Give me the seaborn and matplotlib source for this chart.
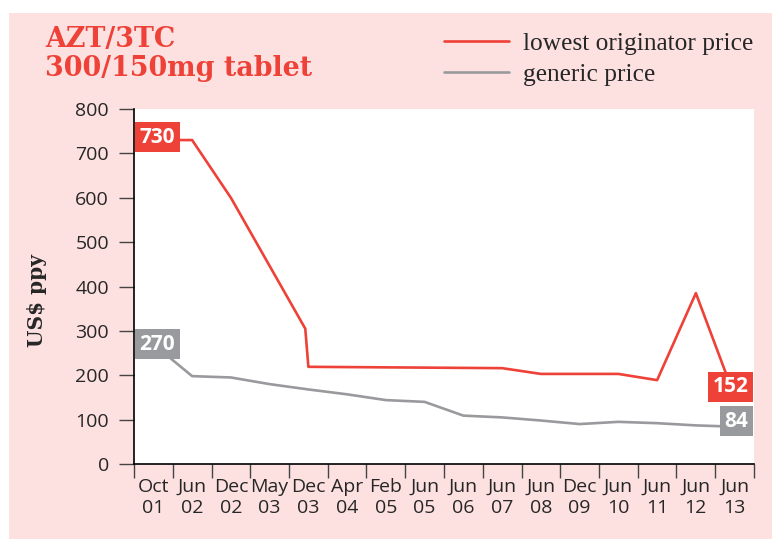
import pandas as pd
import matplotlib
matplotlib.use('Agg')
import matplotlib.pyplot as plt
import matplotlib.transforms as mtransforms
from matplotlib.patches import Rectangle
import seaborn as sns

# Tick labels for each period slot
periods = ['Oct\n01', 'Jun\n02', 'Dec\n02', 'May\n03', 'Dec\n03', 'Apr\n04', 'Feb\n05', 'Jun\n05',
           'Jun\n06', 'Jun\n07', 'Jun\n08', 'Dec\n09', 'Jun\n10', 'Jun\n11', 'Jun\n12', 'Jun\n13']

# Lowest originator price (US$ per person per year)
orig_pos = [0.5, 1.5, 2.5, 4.42, 4.5, 9.5, 10.5, 12.5, 13.5, 14.5, 15.5]
orig_price = [730, 730, 600, 305, 219, 216, 203, 203, 189, 385, 152]

# Generic price
gen_pos = [0.5, 1.5, 2.5, 3.5, 4.5, 5.5, 6.5, 7.5, 8.5, 9.5, 10.5, 11.5, 12.5, 13.5, 14.5, 15.5]
gen_price = [270, 198, 195, 180, 168, 157, 144, 140, 109, 105, 98, 90, 95, 92, 87, 84]

RED = '#ee4137'
GRAY = '#999a9d'
PINK = '#fde0e0'

sns.set_style('ticks')
plt.rcParams['font.family'] = ['Open Sans', 'DejaVu Sans']

df = pd.concat([
    pd.DataFrame({'pos': orig_pos, 'price': orig_price, 'series': 'lowest originator price'}),
    pd.DataFrame({'pos': gen_pos, 'price': gen_price, 'series': 'generic price'}),
])

fig = plt.figure(figsize=(7.72, 5.39), dpi=100)
fig.patch.set_facecolor('white')
# pink panel behind everything
fig.patches.append(Rectangle((9 / 772, 0), 1, 1 - 13 / 539, transform=fig.transFigure,
                             facecolor=PINK, edgecolor='none', zorder=-10))

ax = fig.add_axes([134 / 772, 1 - 464 / 539, 620 / 772, 355 / 539])
ax.set_facecolor('white')

sns.lineplot(data=df, x='pos', y='price', hue='series', estimator=None, sort=False,
             palette={'lowest originator price': RED, 'generic price': GRAY},
             linewidth=1.9, ax=ax)

ax.set_xlim(0, 16)
ax.set_ylim(0, 800)
ax.set_yticks(range(0, 801, 100))
ax.set_xticks(range(0, 17))
ax.set_xticklabels([])
ax.set_xticks(gen_pos, minor=True)
ax.set_xticklabels(periods, minor=True, fontsize=14, linespacing=1.25)
ax.tick_params(axis='x', which='minor', length=0, pad=10)
ax.tick_params(axis='x', which='major', length=10, width=1, color='#444444')
ax.tick_params(axis='y', length=11, width=1, color='#444444', labelsize=14, pad=7)
ax.set_xlabel('')
ax.set_ylabel('US$ ppy', family='DejaVu Serif', fontweight='bold', fontsize=14.5)
ax.yaxis.set_label_coords(-0.14, 0.46)
for side in ['top', 'right']:
    ax.spines[side].set_visible(False)
for side in ['left', 'bottom']:
    ax.spines[side].set_linewidth(1.2)
    ax.spines[side].set_color('black')

# legend at top right of the figure
handles, labels = ax.get_legend_handles_labels()
ax.get_legend().remove()
fig.legend(handles, labels, loc='upper left', bbox_to_anchor=(426 / 772, 1 - 14 / 539),
           frameon=False, prop={'family': 'Liberation Serif', 'size': 18.3},
           handlelength=2.55, handletextpad=0.55, labelspacing=0.34, borderpad=0.2)

# title
fig.text(45 / 772, 1 - 26 / 539, 'AZT/3TC\n300/150mg tablet', color=RED, family='DejaVu Serif',
         fontweight='bold', fontsize=19.4, va='top', ha='left', linespacing=1.1)

# value boxes at the ends
left_tr = mtransforms.blended_transform_factory(ax.transAxes, ax.transData)
box_font = dict(color='white', fontweight='bold', fontsize=15, va='center', zorder=10,
                annotation_clip=False)
box = 'square,pad=0.22'
ax.annotate(str(orig_price[0]), xy=(0, orig_price[0]), xycoords=left_tr, xytext=(4, 2),
            textcoords='offset points', ha='left', bbox=dict(boxstyle=box, fc=RED, ec='none'),
            **box_font)
ax.annotate(str(gen_price[0]), xy=(0, gen_price[0]), xycoords=left_tr, xytext=(4, 0),
            textcoords='offset points', ha='left', bbox=dict(boxstyle=box, fc=GRAY, ec='none'),
            **box_font)
ax.annotate(str(orig_price[-1]), xy=(1, orig_price[-1]), xycoords=left_tr, xytext=(-4, 7),
            textcoords='offset points', ha='right', bbox=dict(boxstyle=box, fc=RED, ec='none'),
            **box_font)
ax.annotate(str(gen_price[-1]), xy=(1, gen_price[-1]), xycoords=left_tr, xytext=(-4, 4),
            textcoords='offset points', ha='right', bbox=dict(boxstyle=box, fc=GRAY, ec='none'),
            **box_font)

fig.savefig('out.png', dpi=100)
